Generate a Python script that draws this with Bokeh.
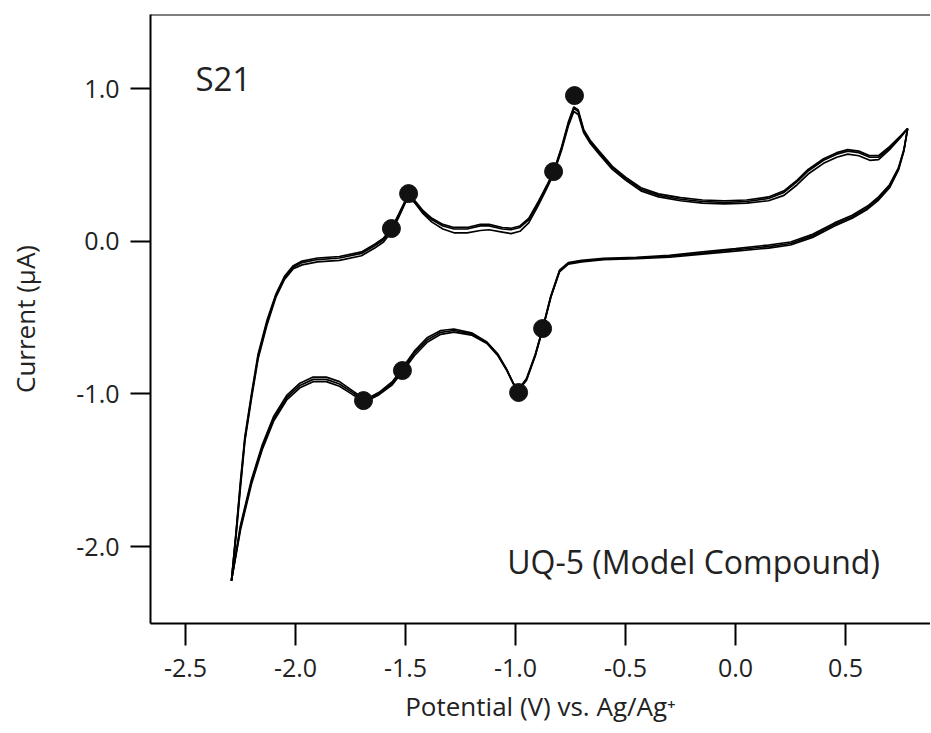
from bokeh.plotting import figure
from bokeh.models import Range1d, FixedTicker, NumeralTickFormatter, Span
from bokeh.core.properties import value
from bokeh.embed import file_html
from bokeh.resources import INLINE

# ---- data ----
x_up = [-2.291, -2.270, -2.250, -2.230, -2.200, -2.170, -2.130, -2.090, -2.050, -2.010,
        -1.970, -1.900, -1.800, -1.700, -1.640, -1.600, -1.564, -1.530, -1.500, -1.486,
        -1.460, -1.420, -1.380, -1.330, -1.280, -1.220, -1.160, -1.120, -1.060, -1.020,
        -0.980, -0.940, -0.900, -0.860, -0.827, -0.790, -0.760, -0.735, -0.715, -0.690,
        -0.660, -0.620, -0.560, -0.500, -0.430, -0.350, -0.250, -0.150, -0.050, 0.050,
        0.150, 0.220, 0.280, 0.330, 0.400, 0.460, 0.510, 0.560, 0.610, 0.650,
        0.700, 0.750, 0.782]
y_up_1 = [-2.223, -1.90, -1.57, -1.28, -1.00, -0.74, -0.52, -0.35, -0.23, -0.16,
          -0.13, -0.11, -0.10, -0.07, -0.02, 0.02, 0.083, 0.18, 0.27, 0.29,
          0.27, 0.20, 0.15, 0.11, 0.09, 0.09, 0.11, 0.11, 0.09, 0.085,
          0.10, 0.15, 0.25, 0.36, 0.456, 0.62, 0.78, 0.88, 0.86, 0.73,
          0.66, 0.59, 0.49, 0.42, 0.35, 0.31, 0.285, 0.27, 0.265, 0.27,
          0.29, 0.33, 0.40, 0.47, 0.54, 0.58, 0.60, 0.59, 0.56, 0.56,
          0.62, 0.69, 0.738]
y_up_2 = [-2.223, -1.93, -1.61, -1.31, -1.03, -0.77, -0.55, -0.37, -0.25, -0.18,
          -0.155, -0.135, -0.125, -0.095, -0.045, -0.005, 0.06, 0.16, 0.255, 0.275,
          0.255, 0.18, 0.125, 0.08, 0.055, 0.055, 0.07, 0.075, 0.06, 0.05,
          0.065, 0.12, 0.225, 0.34, 0.44, 0.60, 0.755, 0.85, 0.83, 0.71,
          0.64, 0.57, 0.47, 0.40, 0.33, 0.29, 0.265, 0.25, 0.245, 0.25,
          0.265, 0.30, 0.37, 0.44, 0.51, 0.55, 0.57, 0.56, 0.53, 0.535,
          0.60, 0.68, 0.738]
y_up_3 = [-2.223, -1.91, -1.59, -1.295, -1.015, -0.755, -0.535, -0.36, -0.24, -0.17,
          -0.14, -0.12, -0.11, -0.08, -0.03, 0.01, 0.072, 0.17, 0.262, 0.283,
          0.262, 0.19, 0.14, 0.10, 0.08, 0.08, 0.10, 0.10, 0.08, 0.075,
          0.09, 0.14, 0.24, 0.35, 0.45, 0.61, 0.77, 0.87, 0.85, 0.72,
          0.65, 0.58, 0.48, 0.41, 0.34, 0.30, 0.275, 0.26, 0.255, 0.26,
          0.28, 0.32, 0.39, 0.46, 0.53, 0.57, 0.59, 0.58, 0.55, 0.55,
          0.61, 0.685, 0.738]

x_dn = [0.782, 0.765, 0.740, 0.700, 0.650, 0.600, 0.530, 0.450, 0.350, 0.250,
        0.150, 0.000, -0.150, -0.300, -0.450, -0.600, -0.700, -0.760, -0.800, -0.840,
        -0.877, -0.910, -0.950, -0.986, -1.010, -1.040, -1.080, -1.130, -1.200, -1.280,
        -1.340, -1.400, -1.460, -1.514, -1.560, -1.620, -1.660, -1.691, -1.740, -1.800,
        -1.860, -1.920, -1.980, -2.040, -2.100, -2.150, -2.200, -2.250, -2.291]
y_dn_1 = [0.738, 0.60, 0.48, 0.37, 0.29, 0.23, 0.17, 0.12, 0.045, -0.005,
          -0.025, -0.048, -0.07, -0.092, -0.105, -0.113, -0.125, -0.14, -0.19, -0.36,
          -0.572, -0.74, -0.90, -0.97, -0.93, -0.84, -0.74, -0.66, -0.60, -0.575,
          -0.585, -0.63, -0.72, -0.83, -0.92, -0.99, -1.02, -1.03, -0.98, -0.92,
          -0.89, -0.89, -0.93, -1.01, -1.15, -1.33, -1.56, -1.86, -2.223]
y_dn_2 = [0.738, 0.59, 0.465, 0.35, 0.27, 0.21, 0.15, 0.10, 0.025, -0.025,
          -0.045, -0.065, -0.085, -0.105, -0.115, -0.12, -0.135, -0.15, -0.20, -0.37,
          -0.58, -0.75, -0.91, -0.975, -0.935, -0.845, -0.75, -0.67, -0.615, -0.595,
          -0.61, -0.66, -0.75, -0.855, -0.94, -1.005, -1.035, -1.045, -1.005, -0.95,
          -0.92, -0.92, -0.96, -1.04, -1.18, -1.36, -1.59, -1.89, -2.223]
y_dn_3 = [0.738, 0.595, 0.47, 0.36, 0.28, 0.22, 0.16, 0.11, 0.035, -0.015,
          -0.035, -0.056, -0.078, -0.098, -0.11, -0.117, -0.13, -0.145, -0.195, -0.365,
          -0.576, -0.745, -0.905, -0.972, -0.932, -0.842, -0.745, -0.665, -0.607, -0.585,
          -0.597, -0.645, -0.735, -0.842, -0.93, -0.997, -1.027, -1.037, -0.992, -0.935,
          -0.905, -0.905, -0.945, -1.025, -1.165, -1.345, -1.575, -1.875, -2.223]

dot_x = [-1.564, -1.486, -0.827, -0.732, -0.877, -0.986, -1.514, -1.691]
dot_y = [0.083, 0.312, 0.456, 0.954, -0.572, -0.991, -0.847, -1.044]

x_ticks = [-2.5, -2.0, -1.5, -1.0, -0.5, 0.0, 0.5]
y_ticks = [-2.0, -1.0, 0.0, 1.0]

FONT = "Open Sans"

p = figure(width=930, height=731, output_backend="svg", toolbar_location=None,
           x_range=Range1d(-2.659, 0.886), y_range=Range1d(-2.504, 1.485),
           min_border_left=150, min_border_right=0, min_border_top=14, min_border_bottom=108)
p.outline_line_color = None
p.grid.visible = False
p.background_fill_color = "white"

for yu, yd in [(y_up_1, y_dn_1), (y_up_2, y_dn_2), (y_up_3, y_dn_3)]:
    p.line(x_up, yu, line_color="black", line_width=1.7)
    p.line(x_dn, yd, line_color="black", line_width=1.7)

p.scatter(dot_x, dot_y, size=18, fill_color="#111111", line_color="#111111")

p.text(x=[-2.455], y=[1.066], text=["S21"], text_font=value(FONT), text_font_size="33px",
       text_color="#222222", text_baseline="alphabetic", text_align="left")
p.text(x=[-1.038], y=[-2.10], text=["UQ-5 (Model Compound)"], text_font=value(FONT),
       text_font_size="32px", text_color="#222222", text_baseline="alphabetic", text_align="left")

p.add_layout(Span(location=1.485, dimension="width", line_color="black", line_width=2))

for ax in (p.xaxis[0], p.yaxis[0]):
    ax.axis_line_width = 2
    ax.axis_line_color = "black"
    ax.major_tick_line_width = 2
    ax.major_tick_line_color = "black"
    ax.minor_tick_line_color = None
    ax.major_tick_in = 0
    ax.major_label_text_font = FONT
    ax.major_label_text_font_size = "25px"
    ax.major_label_text_color = "#222222"
    ax.axis_label_text_font = FONT
    ax.axis_label_text_font_size = "26px"
    ax.axis_label_text_font_style = "normal"
    ax.axis_label_text_color = "#222222"
    ax.formatter = NumeralTickFormatter(format="0.0")

p.xaxis[0].ticker = FixedTicker(ticks=x_ticks)
p.yaxis[0].ticker = FixedTicker(ticks=y_ticks)
p.xaxis[0].major_tick_out = 22
p.yaxis[0].major_tick_out = 20
p.xaxis[0].major_label_standoff = 13
p.yaxis[0].major_label_standoff = 11
p.xaxis[0].axis_label = "Potential (V) vs. Ag/Ag\u207a"
p.yaxis[0].axis_label = "Current (\u00b5A)"
p.xaxis[0].axis_label_standoff = 8
p.yaxis[0].axis_label_standoff = 30

open("out.html", "w").write(file_html(p, INLINE))
